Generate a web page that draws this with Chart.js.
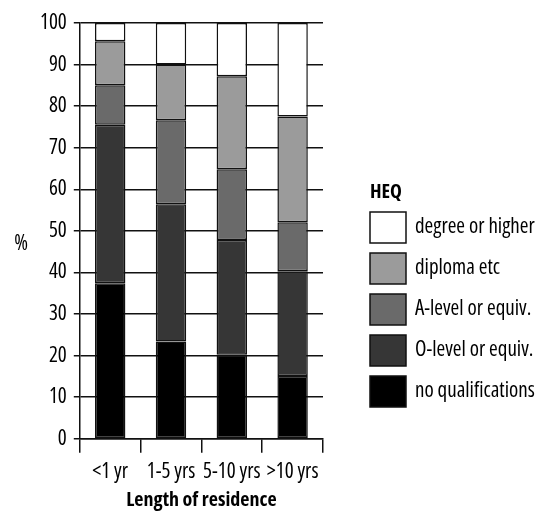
<!DOCTYPE html>
<html><head><meta charset="utf-8">
<script src="https://cdn.jsdelivr.net/npm/chart.js@4/dist/chart.umd.min.js"></script>
<style>html,body{margin:0;padding:0;background:#fff}</style>
</head><body>
<canvas id="c" width="547" height="512"></canvas>
<script>
const categories = ['<1 yr', '1-5 yrs', '5-10 yrs', '>10 yrs'];
const noQualifications = [37.4, 23.4, 20.2, 15.1];
const oLevel = [38.1, 33.0, 27.6, 25.2];
const aLevel = [9.5, 20.2, 17.0, 11.8];
const diploma = [10.6, 13.4, 22.4, 25.4];
const degree = [4.4, 10.0, 12.8, 22.5];
const seriesNames = ['no qualifications', 'O-level or equiv.', 'A-level or equiv.', 'diploma etc', 'degree or higher'];
const seriesColors = ['#000000', '#363636', '#6a6a6a', '#9b9b9b', '#ffffff'];
const yTicks = [0, 10, 20, 30, 40, 50, 60, 70, 80, 90, 100];
const yLabel = '%';
const xLabel = 'Length of residence';
const legendTitle = 'HEQ';

const FAMILY = "'Open Sans', 'Liberation Sans Narrow', sans-serif";
const REG = 'condensed';
const BOLD = 'bold condensed';
const FS = 21;
const FSB = 20;
Chart.defaults.font.family = FAMILY;
Chart.defaults.font.size = FS;
Chart.defaults.font.weight = REG;
Chart.defaults.color = '#000';

const seriesData = [noQualifications, oLevel, aLevel, diploma, degree];
const datasets = seriesData.map((d, i) => ({
  label: seriesNames[i],
  data: d,
  backgroundColor: seriesColors[i],
  borderColor: '#111',
  borderWidth: 1.5,
  borderSkipped: false,
  barPercentage: 0.5,
  categoryPercentage: 1.0
}));

const yTitlePlugin = {
  id: 'yTitle',
  afterDraw(chart) {
    const ctx = chart.ctx, a = chart.chartArea;
    ctx.save();
    ctx.font = REG + ' ' + FS + 'px ' + FAMILY;
    ctx.fillStyle = '#000';
    ctx.textAlign = 'center';
    ctx.textBaseline = 'middle';
    ctx.fillText(yLabel, 21, (a.top + a.bottom) / 2 + 13);
    ctx.restore();
  }
};

const sideLegendPlugin = {
  id: 'sideLegend',
  afterDraw(chart) {
    const ctx = chart.ctx, a = chart.chartArea;
    const x0 = a.right + 47, boxW = 36, boxH = 31, step = 41;
    const top = a.top + 189;
    ctx.save();
    ctx.fillStyle = '#000';
    ctx.textBaseline = 'middle';
    ctx.textAlign = 'left';
    ctx.font = BOLD + ' ' + FSB + 'px ' + FAMILY;
    ctx.fillText(legendTitle, x0, top - 20);
    ctx.font = REG + ' ' + FS + 'px ' + FAMILY;
    const ds = chart.data.datasets.slice().reverse();
    ds.forEach((d, i) => {
      const y = top + i * step;
      ctx.fillStyle = d.backgroundColor;
      ctx.fillRect(x0, y, boxW, boxH);
      ctx.lineWidth = 1.5;
      ctx.strokeStyle = '#111';
      ctx.strokeRect(x0, y, boxW, boxH);
      ctx.fillStyle = '#000';
      ctx.fillText(d.label, x0 + boxW + 9, y + boxH / 2);
    });
    ctx.restore();
  }
};

new Chart(document.getElementById('c'), {
  type: 'bar',
  data: { labels: categories, datasets },
  options: {
    responsive: false,
    animation: false,
    devicePixelRatio: 1,
    layout: { padding: { left: 33, top: 23, right: 224, bottom: 2 } },
    plugins: {
      tooltip: { enabled: false },
      legend: { display: false }
    },
    scales: {
      x: {
        stacked: true,
        grid: { display: true, drawOnChartArea: false, drawTicks: true, tickLength: 14, color: '#111', lineWidth: 1.5 },
        border: { display: true, color: '#111', width: 1.5 },
        ticks: { padding: 7, color: '#000', font: { size: FS, weight: REG }, maxRotation: 0, minRotation: 0, autoSkip: false },
        title: { display: true, text: xLabel, font: { size: FSB, weight: BOLD, lineHeight: 1.0 }, padding: { top: -2, bottom: 0 }, color: '#000' }
      },
      y: {
        stacked: true,
        min: 0, max: 100,
        afterBuildTicks: (s) => { s.ticks = yTicks.map(v => ({ value: v })); },
        grid: { color: '#111', lineWidth: 1.5, tickLength: 6 },
        border: { display: true, color: '#111', width: 1.5 },
        ticks: { padding: 7, color: '#000', font: { size: FS, weight: REG } }
      }
    }
  },
  plugins: [yTitlePlugin, sideLegendPlugin]
});
</script>
</body></html>
